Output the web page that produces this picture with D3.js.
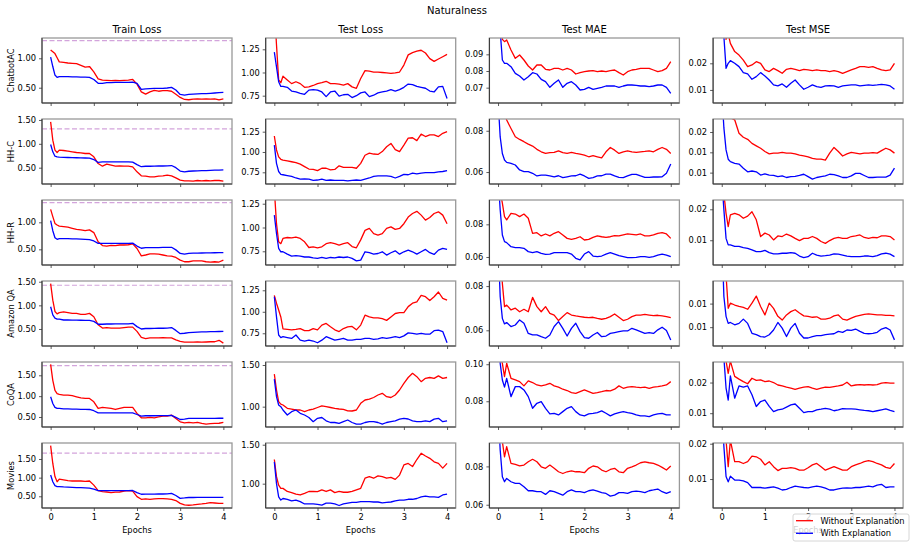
<!DOCTYPE html>
<html>
<head>
<meta charset="utf-8">
<script src="https://cdn.jsdelivr.net/npm/d3@7"></script>
<style>
  body { margin: 0; background: #fff; }
  text { font-family: "DejaVu Sans", sans-serif; }
</style>
</head>
<body>
<div id="chart"></div>
<script>
// sample positions (epochs) shared by every series
const epochs = [0, 0.05, 0.1, 0.15, 0.2, 0.3, 0.4, 0.5, 0.6, 0.7, 0.8, 0.9, 1.0, 1.1, 1.2, 1.3, 1.4, 1.5, 1.6, 1.7, 1.8, 1.9,
  2.0, 2.1, 2.2, 2.3, 2.4, 2.5, 2.6, 2.7, 2.8, 2.9, 3.0, 3.1, 3.2, 3.3, 3.4, 3.5, 3.6, 3.7, 3.8, 3.9, 4.0]

const datasets = ['ChatbotAC', 'HH-C', 'HH-R', 'Amazon QA', 'CoQA', 'Movies']
const metrics = ['Train Loss', 'Test Loss', 'Test MAE', 'Test MSE']
const seriesNames = ['Without Explanation', 'With Explanation']
const xTicks = [0, 1, 2, 3, 4]

// ChatbotAC
const chatbotTrainWo = [1.14,1.11,1.08,1.01,0.94,0.93,0.92,0.915,0.91,0.88,0.85,0.86,0.77,0.65,0.63,0.625,0.62,0.625,0.62,0.625,0.63,0.64,0.56,0.43,0.39,0.43,0.455,0.44,0.45,0.45,0.44,0.39,0.335,0.30,0.295,0.305,0.31,0.305,0.31,0.305,0.31,0.295,0.31]
const chatbotTrainW = [1.02,0.86,0.715,0.675,0.69,0.69,0.69,0.685,0.685,0.68,0.68,0.675,0.64,0.575,0.575,0.585,0.585,0.59,0.59,0.59,0.59,0.595,0.575,0.47,0.48,0.485,0.49,0.49,0.49,0.495,0.505,0.46,0.385,0.375,0.385,0.39,0.395,0.40,0.40,0.405,0.41,0.415,0.42]
const chatbotTestWo = [1.7,1.3,0.92,0.89,0.96,0.92,0.88,0.90,0.88,0.84,0.845,0.86,0.88,0.89,0.905,0.88,0.88,0.875,0.865,0.88,0.845,0.83,0.935,1.02,1.015,1.005,1.005,1.0,0.995,0.99,0.995,1.005,1.08,1.19,1.215,1.23,1.24,1.21,1.15,1.12,1.145,1.17,1.195]
const chatbotTestW = [1.22,1.06,0.90,0.85,0.85,0.84,0.80,0.79,0.775,0.765,0.81,0.815,0.81,0.79,0.74,0.79,0.80,0.745,0.76,0.765,0.73,0.75,0.78,0.79,0.74,0.755,0.78,0.79,0.80,0.815,0.80,0.815,0.84,0.875,0.87,0.85,0.84,0.83,0.80,0.79,0.845,0.85,0.72]
const chatbotMaeWo = [0.13,0.11,0.099,0.0976,0.0986,0.0926,0.0876,0.0896,0.0866,0.083,0.0806,0.0836,0.0836,0.081,0.0806,0.0816,0.0816,0.0806,0.0816,0.0806,0.0782,0.079,0.0796,0.08,0.0802,0.0796,0.08,0.0796,0.0802,0.0806,0.079,0.0776,0.0796,0.0806,0.081,0.0816,0.0816,0.0816,0.0806,0.0796,0.0802,0.0816,0.0856]
const chatbotMaeW = [0.115,0.104,0.0866,0.0846,0.0846,0.0826,0.0786,0.077,0.0746,0.0766,0.079,0.0782,0.075,0.0736,0.0702,0.0726,0.0746,0.0702,0.0726,0.0736,0.0716,0.0686,0.069,0.0702,0.069,0.0696,0.0702,0.071,0.071,0.071,0.0702,0.071,0.0716,0.0716,0.0714,0.071,0.071,0.0706,0.071,0.0716,0.0716,0.0702,0.0666]
const chatbotMseWo = [0.05,0.035,0.029,0.031,0.0275,0.0244,0.0231,0.0212,0.01875,0.0194,0.0206,0.02,0.0175,0.0169,0.0181,0.01725,0.01625,0.01775,0.0181,0.01775,0.01725,0.01775,0.0175,0.01725,0.0175,0.01725,0.01725,0.0169,0.01725,0.0169,0.01625,0.0169,0.0175,0.0181,0.01875,0.01875,0.0185,0.01875,0.0181,0.0175,0.01725,0.0175,0.02]
const chatbotMseW = [0.04,0.03,0.0181,0.02,0.021,0.02,0.01875,0.0165,0.016,0.014,0.015,0.0165,0.01525,0.01375,0.0119,0.0115,0.01225,0.011,0.0125,0.01375,0.0119,0.01025,0.011,0.0119,0.01125,0.011,0.0115,0.0116,0.0115,0.011,0.0115,0.01175,0.0119,0.0119,0.0115,0.01175,0.0119,0.01175,0.0119,0.0121,0.0119,0.0115,0.01025]

// HH-C
const hhcTrainWo = [1.46,1.077,0.867,0.818,0.867,0.86,0.846,0.832,0.818,0.811,0.797,0.797,0.727,0.587,0.531,0.573,0.552,0.531,0.538,0.531,0.531,0.517,0.413,0.329,0.322,0.308,0.308,0.322,0.329,0.343,0.329,0.287,0.238,0.224,0.224,0.217,0.231,0.224,0.231,0.224,0.231,0.231,0.217]
const hhcTrainW = [0.986,0.832,0.741,0.727,0.72,0.715,0.713,0.71,0.708,0.705,0.703,0.70,0.67,0.61,0.62,0.62,0.62,0.622,0.622,0.622,0.62,0.615,0.565,0.52,0.53,0.53,0.532,0.535,0.535,0.538,0.545,0.50,0.43,0.41,0.425,0.43,0.435,0.44,0.44,0.445,0.448,0.45,0.455]
const hhcTestWo = [1.197,1.025,0.94,0.91,0.90,0.89,0.88,0.87,0.85,0.82,0.79,0.785,0.77,0.80,0.80,0.78,0.785,0.83,0.81,0.81,0.81,0.80,0.86,0.96,0.985,0.975,0.97,1.005,1.065,1.105,1.03,1.005,1.085,1.17,1.175,1.14,1.22,1.19,1.21,1.21,1.19,1.23,1.25]
const hhcTestW = [1.085,0.86,0.76,0.725,0.72,0.71,0.70,0.68,0.665,0.67,0.665,0.65,0.655,0.665,0.65,0.655,0.65,0.65,0.65,0.645,0.65,0.655,0.65,0.665,0.68,0.70,0.705,0.705,0.705,0.70,0.68,0.70,0.725,0.72,0.74,0.73,0.74,0.745,0.745,0.745,0.755,0.76,0.77]
const hhcMaeWo = [0.12,0.10,0.095,0.089,0.0852,0.0811,0.0771,0.0758,0.0747,0.0735,0.0726,0.071,0.0698,0.069,0.0694,0.0695,0.0703,0.0694,0.069,0.0695,0.069,0.0687,0.0682,0.0674,0.0679,0.0674,0.0669,0.0698,0.0719,0.0706,0.069,0.0698,0.0703,0.0698,0.0695,0.0698,0.07,0.0703,0.0698,0.071,0.0719,0.071,0.069]
const hhcMaeW = [0.095,0.077,0.069,0.0658,0.0647,0.0642,0.0634,0.061,0.0602,0.0602,0.0594,0.0581,0.0585,0.0585,0.0581,0.0577,0.0582,0.0573,0.0577,0.0581,0.0582,0.059,0.0581,0.0569,0.0573,0.0581,0.0582,0.059,0.059,0.0581,0.0574,0.0573,0.0581,0.0589,0.0589,0.0581,0.0574,0.0574,0.0576,0.0576,0.0577,0.0594,0.0639]
const hhcMseWo = [0.04,0.03,0.026,0.025,0.0235,0.023,0.0197,0.0187,0.0182,0.0172,0.0166,0.016,0.0152,0.0146,0.0148,0.0148,0.015,0.0148,0.0148,0.0146,0.0143,0.0141,0.0139,0.0135,0.0133,0.0133,0.0131,0.0148,0.0162,0.0152,0.0141,0.0146,0.015,0.0148,0.0146,0.0148,0.0148,0.0149,0.0148,0.0154,0.016,0.0156,0.0148]
const hhcMseW = [0.03,0.021,0.0156,0.0133,0.0127,0.0123,0.0121,0.0111,0.0102,0.0104,0.0102,0.0094,0.0097,0.0094,0.0093,0.009,0.0092,0.0088,0.009,0.0091,0.0093,0.0096,0.009,0.0084,0.0088,0.009,0.0092,0.0096,0.0095,0.0092,0.0088,0.0088,0.0092,0.0098,0.0098,0.0093,0.0088,0.0088,0.0089,0.0089,0.0089,0.0094,0.0111]

// HH-R
const hhrTrainWo = [1.24,1.105,0.98,0.95,0.93,0.92,0.91,0.89,0.87,0.86,0.845,0.86,0.81,0.64,0.57,0.56,0.575,0.57,0.58,0.58,0.585,0.60,0.515,0.38,0.395,0.415,0.415,0.41,0.395,0.38,0.375,0.35,0.30,0.27,0.27,0.285,0.285,0.285,0.27,0.265,0.27,0.265,0.30]
const hhrTrainW = [1.03,0.845,0.715,0.685,0.70,0.70,0.698,0.695,0.692,0.69,0.685,0.68,0.655,0.61,0.61,0.61,0.61,0.612,0.612,0.612,0.612,0.615,0.56,0.52,0.53,0.53,0.532,0.532,0.535,0.535,0.538,0.49,0.425,0.41,0.425,0.428,0.43,0.432,0.435,0.435,0.437,0.438,0.44]
const hhrTestWo = [1.4,1.04,0.85,0.83,0.885,0.895,0.89,0.90,0.885,0.85,0.79,0.797,0.787,0.797,0.83,0.84,0.83,0.815,0.83,0.84,0.80,0.787,0.87,0.97,0.99,0.935,0.92,0.935,0.99,1.007,0.98,0.99,1.04,1.11,1.147,1.17,1.13,1.077,1.105,1.147,1.165,1.13,1.04]
const hhrTestW = [1.13,0.937,0.78,0.745,0.745,0.72,0.70,0.705,0.70,0.69,0.69,0.68,0.675,0.685,0.675,0.685,0.68,0.69,0.685,0.69,0.675,0.65,0.657,0.745,0.735,0.72,0.727,0.745,0.71,0.735,0.755,0.72,0.745,0.762,0.745,0.72,0.745,0.77,0.735,0.717,0.762,0.78,0.77]
const hhrMaeWo = [0.11,0.10,0.093,0.0847,0.0827,0.0867,0.0863,0.0847,0.0863,0.0837,0.0745,0.0749,0.0729,0.0741,0.0729,0.0745,0.0755,0.0735,0.0714,0.0708,0.0714,0.0724,0.0704,0.0708,0.072,0.0729,0.0724,0.072,0.0724,0.0731,0.0729,0.0735,0.0741,0.0739,0.0735,0.0741,0.0729,0.0729,0.0735,0.0745,0.0749,0.0741,0.0714]
const hhrMaeW = [0.11,0.0888,0.0735,0.0694,0.0688,0.0663,0.0657,0.0657,0.0653,0.0633,0.0627,0.0633,0.0622,0.0616,0.0618,0.0627,0.0627,0.0627,0.0627,0.0618,0.0592,0.0582,0.0618,0.0633,0.0606,0.0602,0.0606,0.0618,0.0627,0.0618,0.0608,0.0602,0.0596,0.0596,0.0598,0.0602,0.0602,0.0598,0.0602,0.0612,0.0618,0.0612,0.0602]
const hhrMseWo = [0.04,0.025,0.0187,0.0144,0.0182,0.0187,0.0182,0.0171,0.0178,0.0192,0.0166,0.0112,0.0123,0.0117,0.0101,0.0114,0.0112,0.012,0.0114,0.0106,0.0099,0.0106,0.0106,0.0112,0.0106,0.0096,0.009,0.0099,0.0106,0.0109,0.0106,0.0106,0.0112,0.0114,0.0117,0.0109,0.0106,0.0109,0.0108,0.0114,0.0114,0.0112,0.0101]
const hhrMseW = [0.03,0.0198,0.0106,0.0085,0.0085,0.008,0.008,0.0076,0.0074,0.0069,0.0063,0.0063,0.0067,0.006,0.0056,0.0056,0.0058,0.0058,0.006,0.0058,0.0049,0.0044,0.0047,0.0058,0.0052,0.0049,0.005,0.0052,0.0056,0.0055,0.0052,0.0049,0.0047,0.0047,0.0047,0.0049,0.0049,0.0047,0.005,0.0056,0.0058,0.0055,0.0047]

// Amazon QA
const amazonTrainWo = [1.46,1.11,0.87,0.82,0.845,0.86,0.845,0.83,0.83,0.81,0.81,0.83,0.76,0.59,0.52,0.53,0.52,0.52,0.52,0.53,0.54,0.54,0.45,0.32,0.295,0.31,0.31,0.31,0.315,0.31,0.31,0.27,0.24,0.22,0.22,0.22,0.225,0.22,0.225,0.23,0.23,0.26,0.20]
const amazonTrainW = [0.97,0.80,0.73,0.71,0.71,0.69,0.69,0.688,0.686,0.685,0.683,0.68,0.66,0.60,0.60,0.605,0.605,0.608,0.608,0.61,0.61,0.62,0.55,0.50,0.51,0.51,0.512,0.515,0.515,0.518,0.53,0.47,0.40,0.41,0.425,0.43,0.435,0.437,0.44,0.442,0.445,0.447,0.45]
const amazonTestWo = [1.19,1.10,1.02,0.94,0.80,0.795,0.79,0.795,0.805,0.78,0.78,0.805,0.79,0.845,0.865,0.825,0.79,0.77,0.805,0.825,0.83,0.79,0.845,0.96,0.94,0.93,0.93,0.92,0.90,0.94,0.98,0.99,0.99,1.06,1.10,1.115,1.19,1.175,1.13,1.175,1.23,1.155,1.135]
const amazonTestW = [1.175,0.94,0.73,0.70,0.71,0.70,0.69,0.73,0.67,0.66,0.67,0.66,0.64,0.67,0.71,0.69,0.67,0.68,0.69,0.67,0.67,0.68,0.68,0.69,0.69,0.68,0.685,0.70,0.69,0.70,0.71,0.70,0.72,0.755,0.75,0.74,0.75,0.74,0.74,0.78,0.787,0.77,0.64]
const amazonMaeWo = [0.12,0.10,0.0812,0.0707,0.0714,0.0692,0.07,0.0684,0.0695,0.0684,0.0749,0.0707,0.0684,0.0707,0.0677,0.0669,0.0644,0.0662,0.068,0.0669,0.0665,0.0662,0.0659,0.0657,0.0659,0.0654,0.065,0.0654,0.0662,0.0674,0.0659,0.0644,0.065,0.0662,0.0669,0.0669,0.0672,0.0669,0.0666,0.0668,0.0665,0.0662,0.0657]
const amazonMaeW = [0.10,0.0752,0.0654,0.0629,0.0635,0.0617,0.0624,0.0647,0.0632,0.0586,0.0579,0.0579,0.0571,0.0564,0.0579,0.0617,0.0639,0.0609,0.0574,0.0609,0.0632,0.0594,0.0567,0.0564,0.0579,0.059,0.0571,0.0574,0.0586,0.059,0.0594,0.0597,0.0597,0.0609,0.0602,0.0594,0.0586,0.059,0.0586,0.0602,0.0614,0.0599,0.0556]
const amazonMseWo = [0.03,0.025,0.021,0.014,0.0151,0.0147,0.0144,0.0142,0.0138,0.0151,0.0166,0.0144,0.0126,0.0151,0.014,0.0123,0.0115,0.0126,0.0133,0.0137,0.013,0.0124,0.0123,0.0121,0.0122,0.0117,0.0117,0.0119,0.0124,0.0126,0.0117,0.0115,0.0119,0.0123,0.0125,0.0127,0.0128,0.0127,0.0126,0.0126,0.0125,0.0125,0.0124]
const amazonMseW = [0.03,0.0165,0.0123,0.0108,0.011,0.0105,0.0108,0.0117,0.0108,0.0087,0.0084,0.008,0.0079,0.0084,0.0094,0.011,0.0098,0.008,0.0098,0.0108,0.0087,0.0077,0.0077,0.008,0.0082,0.0082,0.0084,0.0085,0.0086,0.0091,0.0089,0.0094,0.0093,0.0096,0.0091,0.0087,0.0086,0.0087,0.0089,0.0096,0.0099,0.0094,0.0073]

// CoQA
const coqaTrainWo = [1.76,1.38,1.14,1.06,1.04,1.025,1.025,1.01,0.985,0.96,0.945,0.945,0.865,0.705,0.73,0.72,0.705,0.68,0.705,0.73,0.73,0.73,0.585,0.48,0.48,0.49,0.48,0.505,0.52,0.52,0.545,0.465,0.385,0.36,0.37,0.36,0.37,0.345,0.33,0.34,0.345,0.35,0.37]
const coqaTrainW = [0.985,0.825,0.73,0.705,0.705,0.695,0.693,0.69,0.688,0.685,0.683,0.68,0.65,0.60,0.60,0.60,0.60,0.60,0.60,0.60,0.60,0.60,0.56,0.52,0.53,0.53,0.53,0.532,0.532,0.535,0.54,0.49,0.44,0.45,0.465,0.465,0.466,0.467,0.468,0.468,0.469,0.47,0.47]
const coqaTestWo = [1.39,1.20,1.06,1.03,1.02,0.98,0.97,0.96,0.96,0.94,0.96,0.97,0.99,1.01,1.0,0.99,0.98,0.972,0.968,0.95,0.948,0.96,1.04,1.08,1.09,1.11,1.14,1.16,1.12,1.11,1.14,1.20,1.28,1.35,1.40,1.36,1.30,1.34,1.35,1.34,1.37,1.34,1.35]
const coqaTestW = [1.33,1.12,1.02,1.0,0.96,0.90,0.94,0.96,0.92,0.90,0.87,0.82,0.86,0.87,0.83,0.81,0.81,0.80,0.82,0.84,0.81,0.79,0.79,0.81,0.82,0.82,0.81,0.79,0.81,0.82,0.83,0.85,0.86,0.852,0.83,0.82,0.82,0.83,0.82,0.85,0.86,0.82,0.83]
const coqaMaeWo = [0.12,0.105,0.1005,0.0933,0.1005,0.0924,0.0915,0.0906,0.0883,0.091,0.0901,0.0888,0.0883,0.0888,0.0897,0.0883,0.0876,0.0865,0.0858,0.0847,0.0843,0.0852,0.0861,0.0852,0.0843,0.0847,0.0852,0.0858,0.0856,0.0865,0.0883,0.087,0.0876,0.0879,0.0876,0.0874,0.0876,0.087,0.0876,0.0879,0.0883,0.0888,0.0906]
const coqaMaeW = [0.115,0.1005,0.0915,0.0876,0.0924,0.0825,0.0879,0.0879,0.0861,0.0825,0.0762,0.0789,0.0798,0.0762,0.0732,0.0735,0.0726,0.0744,0.0762,0.0771,0.0744,0.0726,0.0721,0.0732,0.0735,0.0739,0.0748,0.0735,0.0721,0.0732,0.0739,0.0744,0.0739,0.0735,0.0726,0.0721,0.0721,0.0717,0.0726,0.0732,0.0735,0.0726,0.0726]
const coqaMseWo = [0.04,0.03,0.027,0.023,0.027,0.022,0.0211,0.0203,0.0196,0.0214,0.0207,0.0209,0.0203,0.0205,0.02,0.0192,0.0189,0.0185,0.0182,0.0178,0.0182,0.0185,0.0187,0.0182,0.0178,0.0182,0.0185,0.0184,0.0187,0.0189,0.0192,0.0201,0.0189,0.0192,0.0193,0.0192,0.0193,0.0192,0.0193,0.0198,0.02,0.0198,0.0198]
const coqaMseW = [0.035,0.028,0.0182,0.0143,0.0222,0.0149,0.0189,0.0185,0.0189,0.016,0.0122,0.0138,0.0143,0.0122,0.0105,0.0111,0.0113,0.012,0.0127,0.013,0.0116,0.0102,0.0105,0.0105,0.0111,0.0113,0.0116,0.0113,0.0108,0.0111,0.0115,0.0114,0.0114,0.0113,0.0111,0.0109,0.0108,0.0105,0.0108,0.0111,0.0114,0.0109,0.0105]

// Movies
const moviesTrainWo = [1.86,1.38,1.03,0.89,0.96,0.94,0.92,0.91,0.91,0.91,0.90,0.91,0.80,0.65,0.625,0.615,0.60,0.61,0.615,0.64,0.65,0.64,0.49,0.42,0.43,0.42,0.43,0.44,0.44,0.43,0.42,0.385,0.31,0.27,0.26,0.27,0.285,0.295,0.31,0.33,0.32,0.31,0.31]
const moviesTrainW = [1.07,0.89,0.785,0.76,0.76,0.75,0.745,0.74,0.735,0.73,0.725,0.72,0.69,0.65,0.65,0.65,0.65,0.65,0.652,0.652,0.652,0.655,0.60,0.555,0.56,0.56,0.56,0.562,0.562,0.565,0.58,0.52,0.445,0.455,0.468,0.468,0.469,0.47,0.47,0.47,0.47,0.47,0.47]
const moviesTestWo = [1.31,1.09,0.98,0.94,0.94,0.90,0.885,0.865,0.855,0.875,0.90,0.90,0.897,0.92,0.90,0.92,0.885,0.90,0.89,0.89,0.90,0.92,0.94,1.07,1.09,1.07,1.10,1.09,1.07,1.08,1.055,1.11,1.24,1.26,1.22,1.31,1.39,1.355,1.325,1.28,1.26,1.20,1.26]
const moviesTestW = [1.28,1.0,0.83,0.79,0.81,0.80,0.78,0.79,0.77,0.74,0.74,0.74,0.735,0.725,0.75,0.75,0.74,0.72,0.74,0.75,0.76,0.76,0.77,0.77,0.77,0.765,0.765,0.755,0.76,0.765,0.78,0.79,0.79,0.80,0.80,0.81,0.83,0.84,0.83,0.83,0.825,0.855,0.865]
const moviesMaeWo = [0.12,0.10,0.093,0.085,0.0903,0.0816,0.081,0.0803,0.0807,0.0824,0.0837,0.0824,0.0798,0.079,0.0807,0.079,0.0772,0.0763,0.0772,0.0777,0.0772,0.0772,0.0767,0.079,0.0802,0.0798,0.0781,0.0772,0.0784,0.079,0.0772,0.0767,0.079,0.0798,0.0807,0.0819,0.0824,0.0819,0.0816,0.0807,0.0795,0.0781,0.0802]
const moviesMaeW = [0.11,0.0885,0.0746,0.072,0.0737,0.072,0.0711,0.0711,0.0694,0.0673,0.0673,0.0668,0.0668,0.0654,0.0673,0.0668,0.0659,0.065,0.0668,0.0677,0.0668,0.0668,0.0663,0.0673,0.0677,0.0671,0.0663,0.0659,0.0645,0.065,0.0663,0.0663,0.0659,0.0668,0.0671,0.0668,0.0663,0.0673,0.0677,0.0682,0.0668,0.0659,0.0668]
const moviesMseWo = [0.03,0.025,0.021,0.0135,0.021,0.0149,0.0149,0.0144,0.0149,0.0165,0.0163,0.0156,0.014,0.0149,0.0135,0.0124,0.013,0.013,0.0132,0.013,0.0125,0.0125,0.0132,0.014,0.0144,0.0135,0.0125,0.013,0.0135,0.013,0.0125,0.0125,0.0135,0.014,0.0144,0.0149,0.0152,0.0149,0.0144,0.014,0.0133,0.013,0.0144]
const moviesMseW = [0.03,0.0192,0.0107,0.0092,0.0108,0.0097,0.0097,0.0095,0.009,0.0076,0.0076,0.0076,0.0074,0.0076,0.0078,0.0074,0.0069,0.0071,0.0076,0.008,0.0078,0.0076,0.0075,0.0078,0.008,0.0078,0.0074,0.0069,0.0069,0.0072,0.0074,0.0075,0.0074,0.0076,0.0076,0.0078,0.008,0.0078,0.0083,0.0085,0.0076,0.0078,0.0078]

// dashed reference level in each train loss panel
const trainRefLevel = [1.30, 1.315, 1.363, 1.425, 1.73, 1.66]

// y ranges per row, one column each
const trainDomains = [[0.24, 1.345], [0.158, 1.52], [0.21, 1.413], [0.14, 1.515], [0.26, 1.819], [0.186, 1.929]]
const testDomains = [[0.671, 1.372], [0.606, 1.406], [0.606, 1.289], [0.602, 1.358], [0.756, 1.536], [0.688, 1.522]]
const maeDomains = [[0.0608, 0.0998], [0.0542, 0.0857], [0.0551, 0.0949], [0.0529, 0.0823], [0.0661, 0.1012], [0.0583, 0.0922]]
const mseDomains = [[0.0051, 0.0295], [0.0072, 0.0232], [0.002, 0.023], [0.006, 0.0198], [0.0055, 0.0267], [0.0018, 0.0202]]

// y ticks
const trainTicks = [[0.5, 1.0], [0.5, 1.0, 1.5], [0.5, 1.0], [0.5, 1.0, 1.5], [0.5, 1.0, 1.5], [0.5, 1.0, 1.5]]
const testTicks = [[0.75, 1.0, 1.25], [0.75, 1.0, 1.25], [0.75, 1.0, 1.25], [0.75, 1.0, 1.25], [1.0, 1.5], [1.0, 1.5]]
const maeTicks = [[0.07, 0.08, 0.09], [0.06, 0.08], [0.06, 0.08], [0.06, 0.08], [0.08, 0.10], [0.06, 0.08]]
const mseTicks = [[0.01, 0.02], [0.01, 0.015, 0.02], [0.01, 0.02], [0.01, 0.015], [0.01, 0.02], [0.01, 0.02]]
const mseTickLabels = [['0.01', '0.02'], ['0.01', '0.01', '0.02'], ['0.01', '0.02'], ['0.01', '0.01'], ['0.01', '0.02'], ['0.01', '0.02']]

// tables built from the arrays above
const without = [
  [chatbotTrainWo, chatbotTestWo, chatbotMaeWo, chatbotMseWo],
  [hhcTrainWo, hhcTestWo, hhcMaeWo, hhcMseWo],
  [hhrTrainWo, hhrTestWo, hhrMaeWo, hhrMseWo],
  [amazonTrainWo, amazonTestWo, amazonMaeWo, amazonMseWo],
  [coqaTrainWo, coqaTestWo, coqaMaeWo, coqaMseWo],
  [moviesTrainWo, moviesTestWo, moviesMaeWo, moviesMseWo]
]
const withExpl = [
  [chatbotTrainW, chatbotTestW, chatbotMaeW, chatbotMseW],
  [hhcTrainW, hhcTestW, hhcMaeW, hhcMseW],
  [hhrTrainW, hhrTestW, hhrMaeW, hhrMseW],
  [amazonTrainW, amazonTestW, amazonMaeW, amazonMseW],
  [coqaTrainW, coqaTestW, coqaMaeW, coqaMseW],
  [moviesTrainW, moviesTestW, moviesMaeW, moviesMseW]
]
const domains = [trainDomains, testDomains, maeDomains, mseDomains]
const ticks = [trainTicks, testTicks, maeTicks, mseTicks]

//layout
const dims = {
  width: 914,
  height: 546,
  left: 42,
  top: 38,
  colStep: 223.7,
  rowStep: 81,
  panelW: 190,
  panelH: 65
}
const colors = { without: '#ff0000', with: '#0000ff' }
const fmt2 = d3.format('.2f')

const svg = d3.select('#chart')
  .append('svg')
  .attr('width', dims.width)
  .attr('height', dims.height)

svg.append('rect')
  .attr('width', dims.width)
  .attr('height', dims.height)
  .attr('fill', '#fff')

svg.append('text')
  .attr('x', dims.width / 2)
  .attr('y', 14)
  .attr('text-anchor', 'middle')
  .attr('font-size', 10)
  .text('Naturalness')

const defs = svg.append('defs')

datasets.forEach((dataset, r) => {
  metrics.forEach((metric, c) => {
    const left = dims.left + c * dims.colStep
    const top = dims.top + r * dims.rowStep
    const bottom = top + dims.panelH

    const x = d3.scaleLinear().domain([-0.2, 4.2]).range([left, left + dims.panelW])
    const y = d3.scaleLinear().domain(domains[c][r]).range([bottom, top])

    const clipId = `clip-${r}-${c}`
    defs.append('clipPath').attr('id', clipId)
      .append('rect')
      .attr('x', left).attr('y', top)
      .attr('width', dims.panelW).attr('height', dims.panelH)

    const g = svg.append('g')
    const plot = g.append('g').attr('clip-path', `url(#${clipId})`)

    //dashed reference line in train loss
    if (c === 0) {
      plot.append('line')
        .attr('x1', left).attr('x2', left + dims.panelW)
        .attr('y1', y(trainRefLevel[r])).attr('y2', y(trainRefLevel[r]))
        .attr('stroke', '#d3a4dc')
        .attr('stroke-width', 1.2)
        .attr('stroke-dasharray', '5,2.5')
    }

    const line = d3.line()
      .defined((d, i) => epochs[i] !== undefined)
      .x((d, i) => x(epochs[i]))
      .y(d => y(d))

    plot.append('path')
      .attr('d', line(without[r][c]))
      .attr('fill', 'none')
      .attr('stroke', colors.without)
      .attr('stroke-width', 1.3)
      .attr('stroke-linejoin', 'round')

    plot.append('path')
      .attr('d', line(withExpl[r][c]))
      .attr('fill', 'none')
      .attr('stroke', colors.with)
      .attr('stroke-width', 1.3)
      .attr('stroke-linejoin', 'round')

    //frame
    g.append('rect')
      .attr('x', left).attr('y', top)
      .attr('width', dims.panelW).attr('height', dims.panelH)
      .attr('fill', 'none')
      .attr('stroke', '#999')
      .attr('stroke-width', 1.3)
    g.append('line')
      .attr('x1', left).attr('x2', left).attr('y1', top).attr('y2', bottom)
      .attr('stroke', '#333').attr('stroke-width', 1)
    g.append('line')
      .attr('x1', left).attr('x2', left + dims.panelW).attr('y1', bottom).attr('y2', bottom)
      .attr('stroke', '#333').attr('stroke-width', 1)

    //axes
    const yAxis = d3.axisLeft(y)
      .tickValues(ticks[c][r])
      .tickSize(3)
      .tickPadding(3)
      .tickFormat((d, i) => c === 3 ? mseTickLabels[r][i] : fmt2(d))
    const yG = g.append('g').attr('transform', `translate(${left},0)`).call(yAxis)

    const xAxis = d3.axisBottom(x)
      .tickValues(xTicks)
      .tickSize(3)
      .tickPadding(3)
      .tickFormat(r === datasets.length - 1 ? d3.format('d') : () => '')
    const xG = g.append('g').attr('transform', `translate(0,${bottom})`).call(xAxis)

    ;[yG, xG].forEach(ax => {
      ax.select('.domain').remove()
      ax.selectAll('line').attr('stroke', '#333').attr('stroke-width', 0.8)
      ax.selectAll('text')
        .attr('font-size', 8.3)
        .attr('font-family', '"DejaVu Sans", sans-serif')
        .attr('fill', '#000')
    })

    //column titles
    if (r === 0) {
      svg.append('text')
        .attr('x', left + dims.panelW / 2)
        .attr('y', 33)
        .attr('text-anchor', 'middle')
        .attr('font-size', 10)
        .text(metric)
    }

    //x labels
    if (r === datasets.length - 1) {
      svg.append('text')
        .attr('x', left + dims.panelW / 2)
        .attr('y', 533)
        .attr('text-anchor', 'middle')
        .attr('font-size', 8.3)
        .text('Epochs')
    }

    //row labels
    if (c === 0) {
      svg.append('text')
        .attr('transform', `translate(13.5,${top + dims.panelH / 2}) rotate(-90)`)
        .attr('text-anchor', 'middle')
        .attr('font-size', 8.3)
        .text(dataset)
    }
  })
})

//legend
const legend = svg.append('g').attr('transform', 'translate(793,514)')
legend.append('rect')
  .attr('width', 116)
  .attr('height', 27)
  .attr('rx', 2)
  .attr('fill', '#fff')
  .attr('fill-opacity', 0.8)
  .attr('stroke', '#ccc')
  .attr('stroke-width', 0.8)

const legendItems = legend.selectAll('g.item')
  .data(seriesNames)
  .join('g')
  .attr('class', 'item')
  .attr('transform', (d, i) => `translate(0,${6.7 + i * 12.6})`)

legendItems.append('line')
  .attr('x1', 3).attr('x2', 20)
  .attr('stroke', (d, i) => i === 0 ? colors.without : colors.with)
  .attr('stroke-width', 1.3)

legendItems.append('text')
  .attr('x', 27.5)
  .attr('y', 3)
  .attr('font-size', 8.3)
  .text(d => d)
</script>
</body>
</html>
